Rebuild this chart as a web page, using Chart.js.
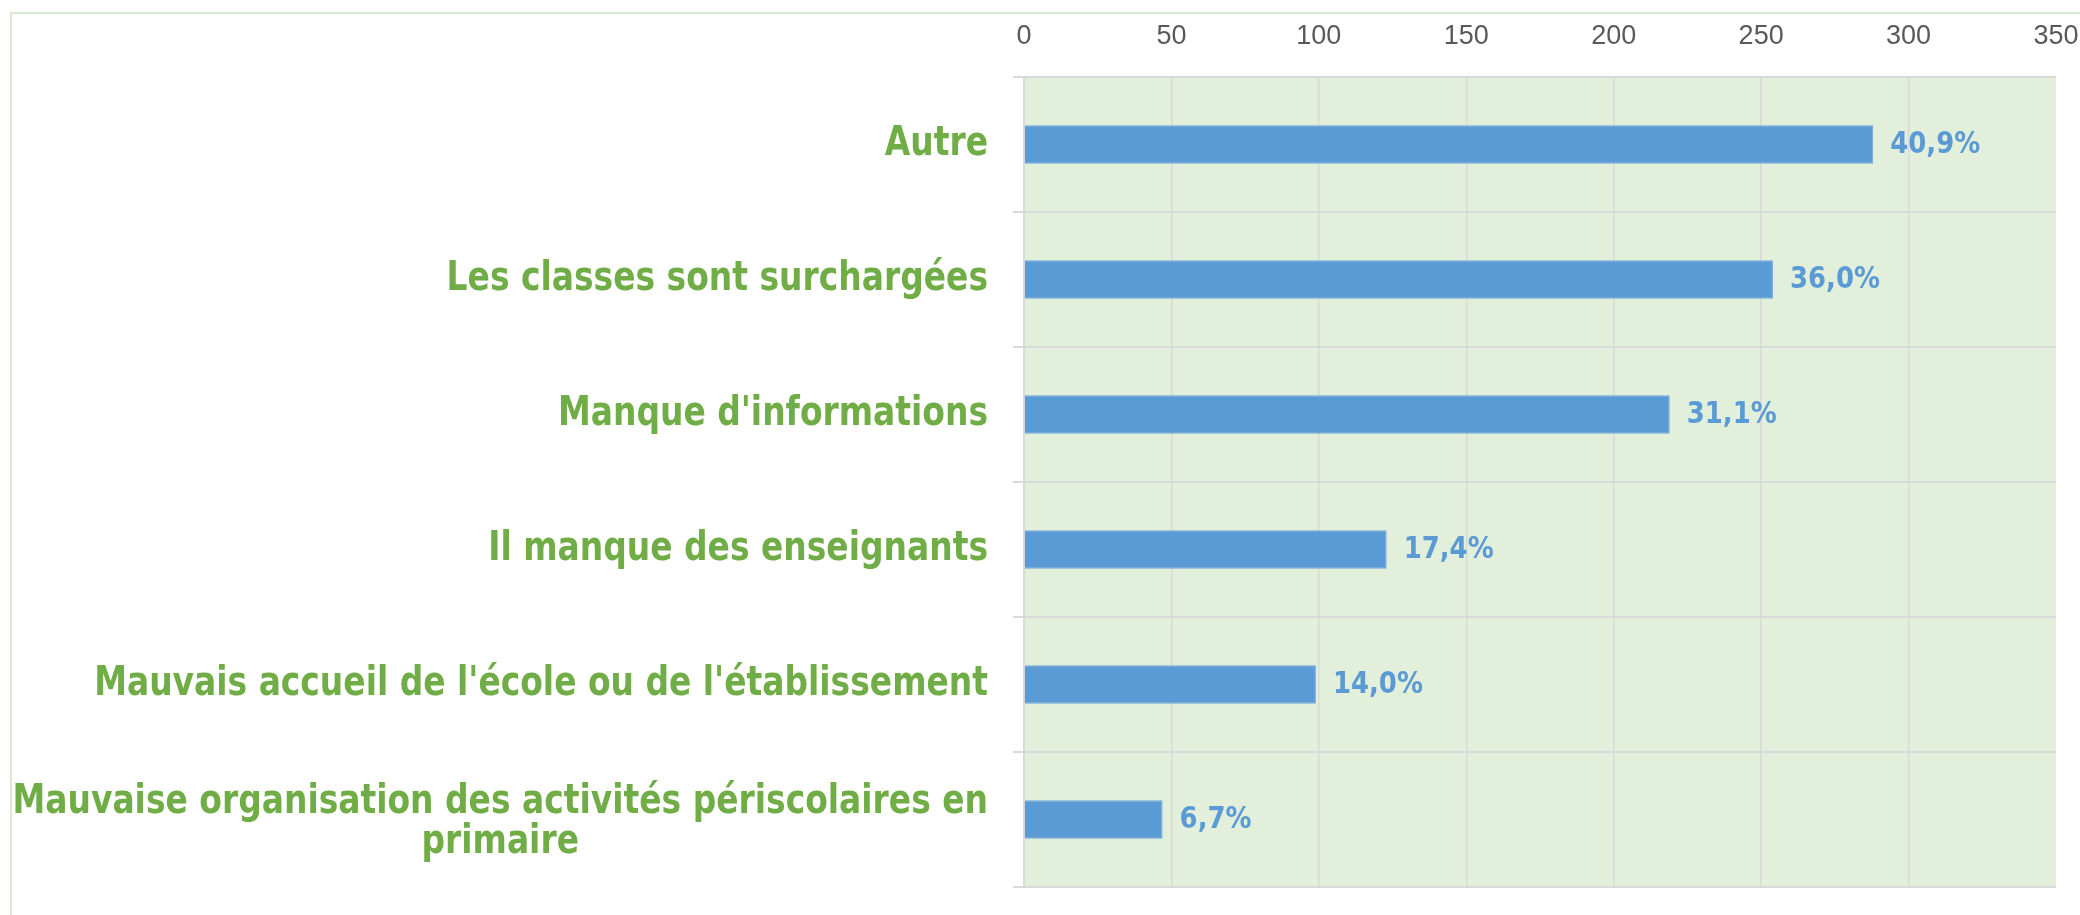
<!DOCTYPE html>
<html>
<head>
<meta charset="utf-8">
<script src="https://cdn.jsdelivr.net/npm/chart.js@4/dist/chart.umd.min.js"></script>
<style>
    html, body { margin: 0; padding: 0; background: #ffffff; }
    #wrap { position: relative; width: 2080px; height: 915px; overflow: hidden; }
    #frame { position: absolute; left: 10px; top: 12px; width: 2200px; height: 1000px; border: 2px solid #dbe9d2; box-sizing: border-box; }
    #bar-graph { position: absolute; left: 0; top: 0; }
</style>
</head>
<body>
<div id="wrap">
    <div id="frame"></div>
    <canvas id="bar-graph" width="2080" height="915"></canvas>
</div>
<script>
// categories, top to bottom
var categories = [
    ["Autre"],
    ["Les classes sont surchargées"],
    ["Manque d'informations"],
    ["Il manque des enseignants"],
    ["Mauvais accueil de l'école ou de l'établissement"],
    ["Mauvaise organisation des activités périscolaires en", "primaire"]
];
var counts = [288, 254, 219, 123, 99, 47];
var percentLabels = ["40,9%", "36,0%", "31,1%", "17,4%", "14,0%", "6,7%"];
var xTicks = [0, 50, 100, 150, 200, 250, 300, 350];

var labelFont = '"DejaVu Sans Condensed", "DejaVu Sans", sans-serif';

document.addEventListener('DOMContentLoaded', function() {
    renderBarGraph();
});

function renderBarGraph(){

    // green plot area behind the bars
    var plotBackground = {
        id: 'plotBackground',
        beforeDraw: function(chart) {
            var ctx = chart.ctx;
            var a = chart.chartArea;
            ctx.save();
            ctx.fillStyle = '#e2efda';
            ctx.fillRect(a.left, a.top, a.right - a.left, a.bottom - a.top);
            ctx.restore();
        }
    };

    // category labels: block right aligned, lines centred inside the block (like excel)
    // text is squeezed a bit horizontally, the original font is tall and narrow
    var categoryLabels = {
        id: 'categoryLabels',
        afterDraw: function(chart) {
            var ctx = chart.ctx;
            var yScale = chart.scales.y;
            var squeeze = 0.915;
            var right = yScale.right - 36;
            var lineHeight = 40;
            ctx.save();
            ctx.font = 'bold 40px ' + labelFont;
            ctx.fillStyle = '#70ad47';
            ctx.textBaseline = 'middle';
            ctx.textAlign = 'center';
            ctx.scale(squeeze, 1);
            for(let i=0;i<categories.length;i++){
                var lines = categories[i];
                var widest = Math.max(...lines.map(l => ctx.measureText(l).width)) * squeeze;
                var cx = right - widest / 2;
                var cy = yScale.getPixelForTick(i) - (lines.length - 1) * lineHeight / 2 + (lines.length - 1) * 3;
                for(let j=0;j<lines.length;j++){
                    ctx.fillText(lines[j], cx / squeeze, cy + j * lineHeight);
                }
            }
            ctx.restore();
        }
    };

    // percentage after each bar
    var percentValues = {
        id: 'percentValues',
        afterDatasetsDraw: function(chart) {
            var ctx = chart.ctx;
            var meta = chart.getDatasetMeta(0);
            var squeeze = 0.93;
            ctx.save();
            ctx.font = 'bold 31px ' + labelFont;
            ctx.fillStyle = '#5b9bd5';
            ctx.textBaseline = 'middle';
            ctx.textAlign = 'left';
            ctx.scale(squeeze, 1);
            meta.data.forEach(function(bar, i) {
                ctx.fillText(percentLabels[i], (bar.x + 17) / squeeze, bar.y);
            });
            ctx.restore();
        }
    };

    var ctx = document.getElementById('bar-graph').getContext('2d');

    new Chart(ctx, {
        type: 'bar',
        data: {
            labels: categories,
            datasets: [{
                data: counts,
                backgroundColor: '#5b9bd5',
                borderColor: '#6fa7dc',
                borderWidth: 1,
                barPercentage: 0.285,
                categoryPercentage: 1.0
            }]
        },
        options: {
            indexAxis: 'y',
            responsive: false,
            animation: false,
            layout: { padding: { left: 0, right: 1, top: 14, bottom: 28 } },
            plugins: {
                legend: { display: false },
                tooltip: { enabled: false }
            },
            scales: {
                x: {
                    position: 'top',
                    min: xTicks[0],
                    max: xTicks[xTicks.length - 1],
                    afterBuildTicks: function(scale) {
                        scale.ticks = xTicks.map(v => ({ value: v }));
                    },
                    afterFit: function(scale) {
                        scale.height = 63;
                        // only half of the last label hangs past the plot, not the tick padding too
                        scale.paddingLeft = 0;
                        scale.paddingRight = 24;
                    },
                    border: { display: false },
                    grid: {
                        color: function(c) { return c.tick && c.tick.value === 350 ? 'rgba(0,0,0,0)' : '#d9d9d9'; },
                        lineWidth: 1.5,
                        drawTicks: false
                    },
                    ticks: {
                        padding: 24,
                        color: '#595959',
                        font: { family: '"Liberation Sans", Arial, sans-serif', size: 27 }
                    }
                },
                y: {
                    afterFit: function(scale) { scale.width = 1024; },
                    border: { display: true, color: '#d9d9d9', width: 2 },
                    grid: {
                        offset: true,
                        color: '#d9d9d9',
                        lineWidth: 2,
                        drawTicks: true,
                        tickLength: 11
                    },
                    ticks: { display: false }
                }
            }
        },
        plugins: [plotBackground, categoryLabels, percentValues]
    });
}
</script>
</body>
</html>
